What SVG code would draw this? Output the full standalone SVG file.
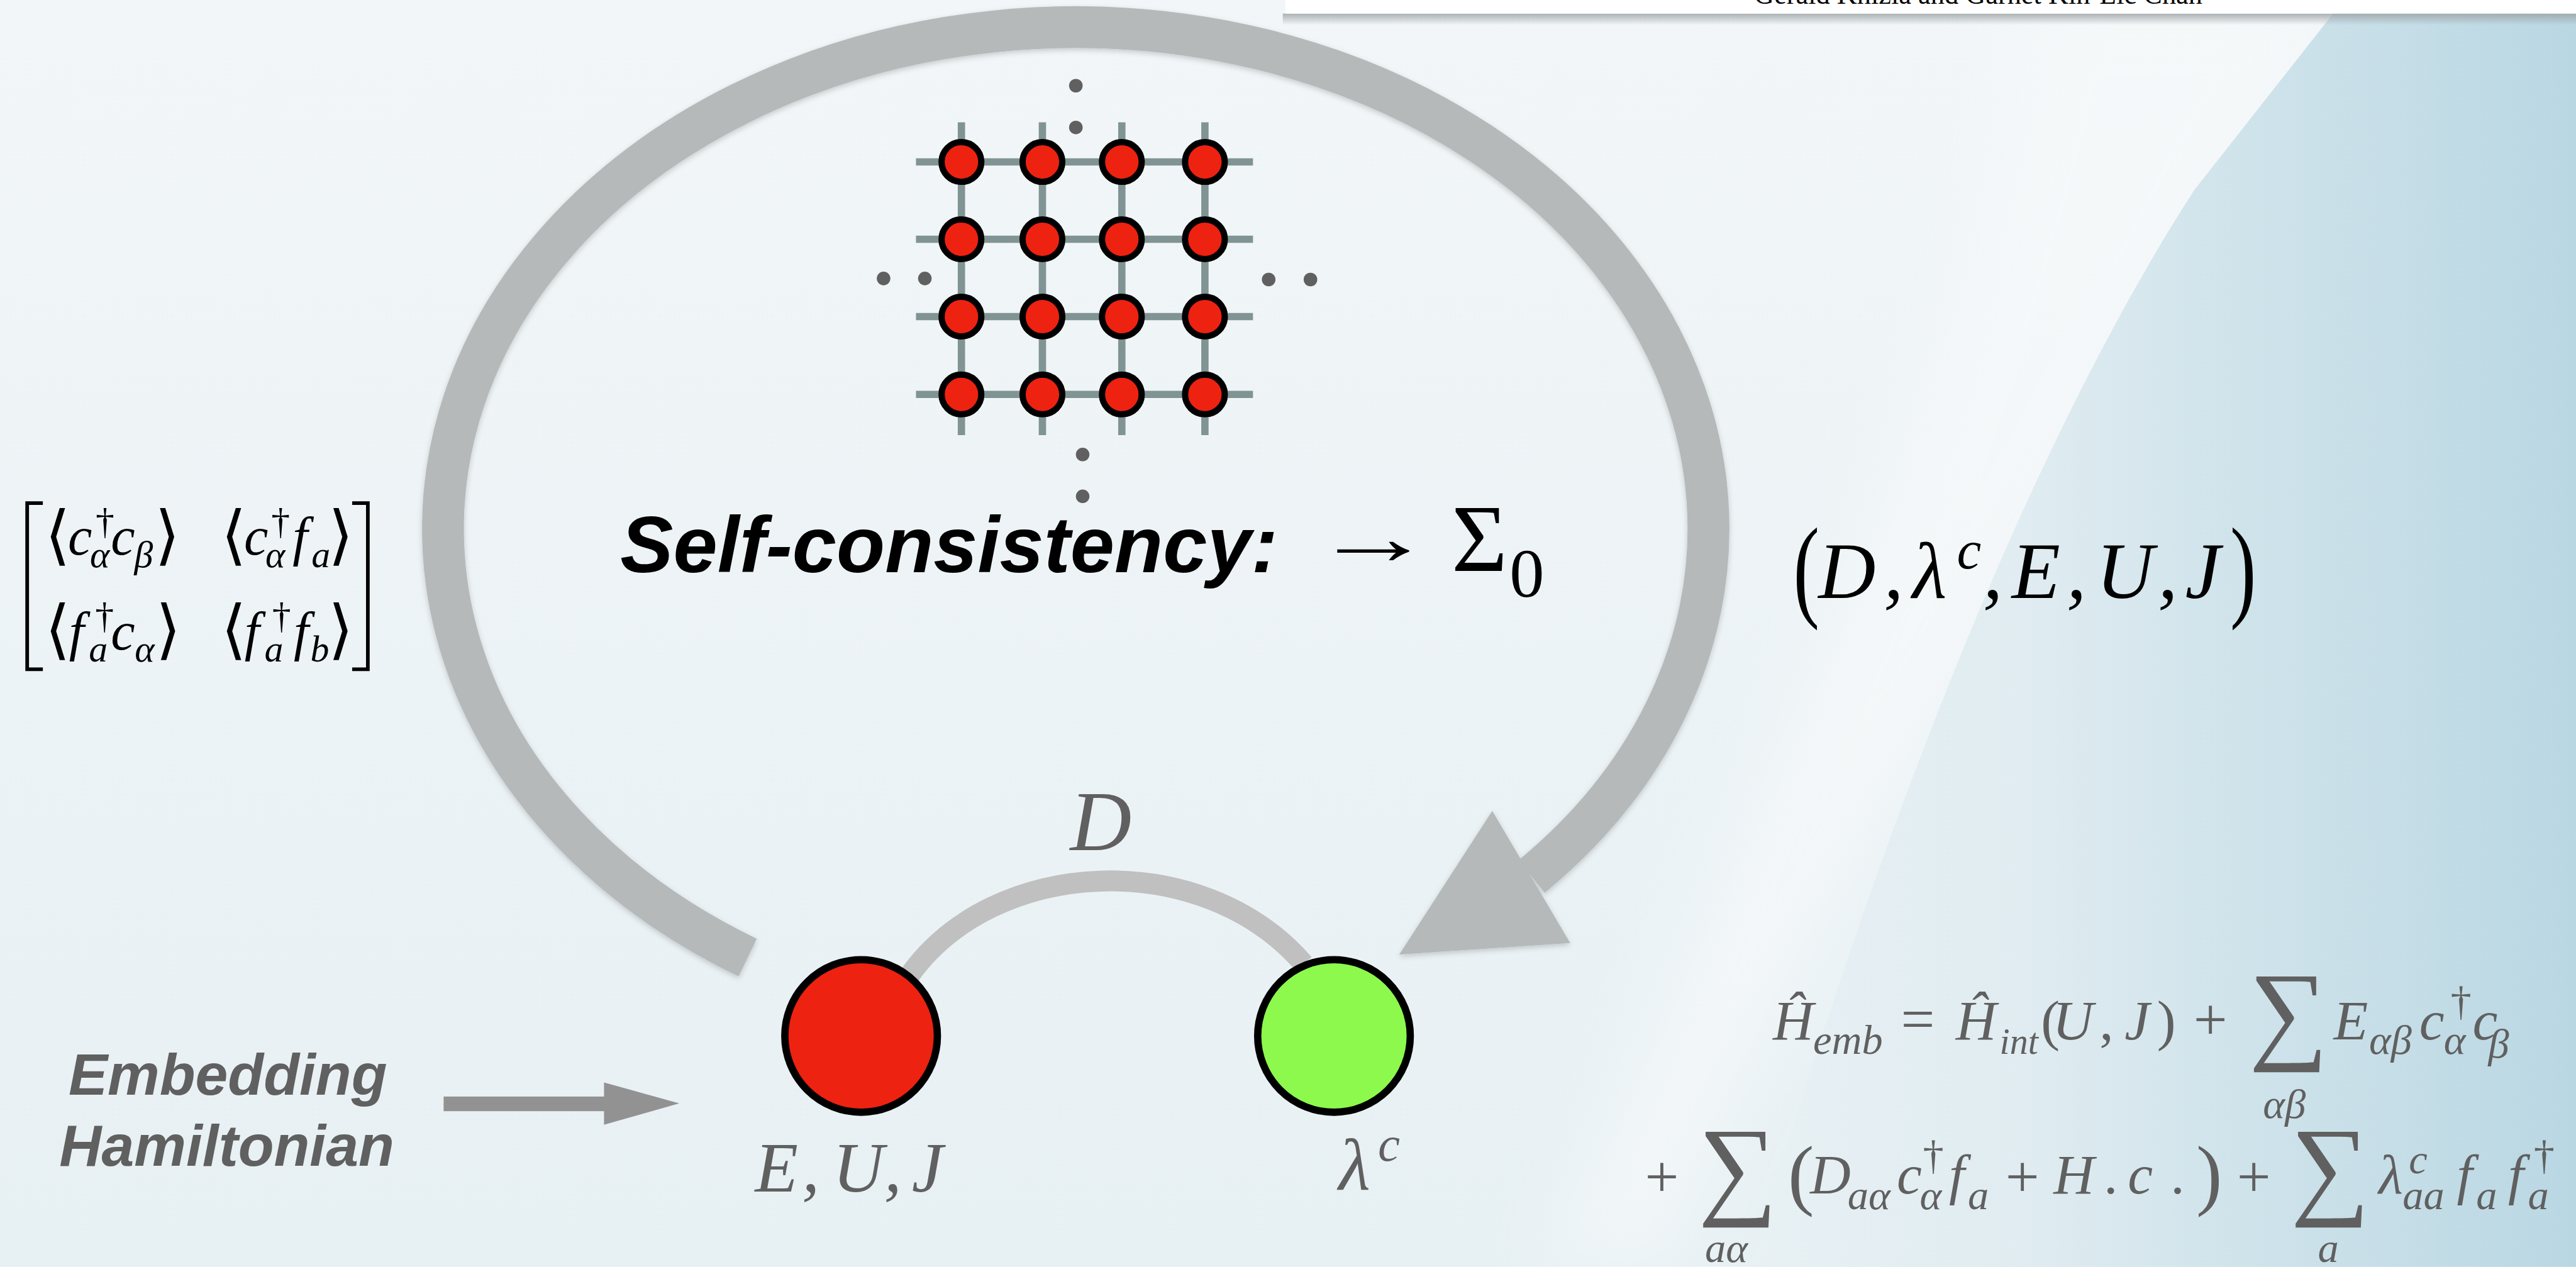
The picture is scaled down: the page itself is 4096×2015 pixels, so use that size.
<svg xmlns="http://www.w3.org/2000/svg" width="4096" height="2015" viewBox="0 0 4096 2015">
<defs>
<style>
.mi{font-family:"Liberation Serif","Times New Roman",serif;font-style:italic}
.mr{font-family:"Liberation Serif","Times New Roman",serif;font-style:normal}
.ang{font-family:"DejaVu Sans",sans-serif;font-style:normal;font-weight:normal}
.sum{font-family:"Liberation Serif","DejaVu Serif",serif;font-style:normal}
.bi{font-family:"Liberation Sans",Arial,sans-serif;font-weight:bold;font-style:italic}
.blk{fill:#000}
.gry{fill:#606060}
.lat{stroke:#819494;stroke-width:14}
.site{fill:#ee2211;stroke:#000;stroke-width:12}
.dot{fill:#606060}
</style>
<linearGradient id="bg" x1="0" y1="0" x2="0" y2="1">
<stop offset="0" stop-color="#f2f6f8"/>
<stop offset="1" stop-color="#e7f0f3"/>
</linearGradient>
<linearGradient id="blue" gradientUnits="userSpaceOnUse" x1="3300" y1="0" x2="4930" y2="0">
<stop offset="0" stop-color="#e9f1f4"/>
<stop offset="0.35" stop-color="#e0ecf1"/>
<stop offset="0.55" stop-color="#d3e5ec"/>
<stop offset="1" stop-color="#b9d7e3"/>
</linearGradient>
<linearGradient id="hshadow" x1="0" y1="0" x2="0" y2="1">
<stop offset="0" stop-color="#9aa0a3" stop-opacity="0.8"/>
<stop offset="1" stop-color="#9aa0a3" stop-opacity="0"/>
</linearGradient>
<filter id="sh" x="-10%" y="-10%" width="120%" height="120%">
<feDropShadow dx="0" dy="4" stdDeviation="5" flood-color="#000" flood-opacity="0.18"/>
</filter>
<filter id="soft" x="-20%" y="-20%" width="140%" height="140%">
<feGaussianBlur stdDeviation="60"/>
</filter>
</defs>
<g transform="scale(0.83083)">
<g id="background">
<rect x="0" y="0" width="4930" height="2425" fill="url(#bg)"/>
<path d="M3900 0 L4470 0 C4300 300 4000 900 3650 1500 C3450 1850 3300 2150 3200 2425 L2950 2425 C3300 1600 3800 700 3900 0 Z" fill="#f9fbfc" opacity="0.55" filter="url(#soft)"/>
<path d="M4470 20 L4200 363 C3950 750 3650 1400 3350 2425 L4930 2425 L4930 20 Z" fill="url(#blue)"/>
<rect x="2455" y="26" width="2475" height="22" fill="url(#hshadow)"/>
<rect x="2460" y="-10" width="2480" height="36" fill="#ffffff"/>
<text class="mr blk" x="3357" y="7" font-size="56" textLength="858" lengthAdjust="spacingAndGlyphs">Gerald Knizia and Garnet Kin-Lic Chan</text>
</g>
<g id="connectors">
<g id="loop-arrow" filter="url(#sh)" fill="#b5b9ba">
<path d="M1431 1833 A1211 960 0 1 1 2931 1678" fill="none" stroke="#b5b9ba" stroke-width="80"/>
<polygon points="2678,1827 2856,1552 3005,1805"/>
</g>
<path id="hop-D" d="M1740 1868 C1900 1640 2300 1620 2495 1845" fill="none" stroke="#c0c0c0" stroke-width="40"/>
<g id="embedding-arrow" fill="#929292">
<rect x="849" y="2099" width="310" height="28"/>
<polygon points="1156,2072 1300,2112 1156,2153"/>
</g>
</g>
<g id="lattice">
<g class="lat">
<line x1="1753" y1="310" x2="2398" y2="310"/>
<line x1="1753" y1="458" x2="2398" y2="458"/>
<line x1="1753" y1="606" x2="2398" y2="606"/>
<line x1="1753" y1="755" x2="2398" y2="755"/>
<line x1="1840" y1="234" x2="1840" y2="833"/>
<line x1="1995" y1="234" x2="1995" y2="833"/>
<line x1="2147" y1="234" x2="2147" y2="833"/>
<line x1="2306" y1="234" x2="2306" y2="833"/>
</g>
<g class="site">
<circle cx="1840" cy="310" r="38"/><circle cx="1995" cy="310" r="38"/><circle cx="2147" cy="310" r="38"/><circle cx="2306" cy="310" r="38"/>
<circle cx="1840" cy="458" r="38"/><circle cx="1995" cy="458" r="38"/><circle cx="2147" cy="458" r="38"/><circle cx="2306" cy="458" r="38"/>
<circle cx="1840" cy="606" r="38"/><circle cx="1995" cy="606" r="38"/><circle cx="2147" cy="606" r="38"/><circle cx="2306" cy="606" r="38"/>
<circle cx="1840" cy="755" r="38"/><circle cx="1995" cy="755" r="38"/><circle cx="2147" cy="755" r="38"/><circle cx="2306" cy="755" r="38"/>
</g>
<g class="dot">
<circle cx="2059" cy="164" r="13"/><circle cx="2059" cy="244" r="13"/>
<circle cx="2072" cy="870" r="13"/><circle cx="2072" cy="950" r="13"/>
<circle cx="1691" cy="533" r="13"/><circle cx="1770" cy="533" r="13"/>
<circle cx="2428" cy="535" r="13"/><circle cx="2508" cy="535" r="13"/>
</g>
</g>
<g id="self-consistency">
<text class="bi blk" x="1187" y="1095" font-size="152">Self-consistency:</text>
<text class="mr blk" transform="translate(2512 1080) scale(1.55 1)" x="0" y="0" font-size="150">→</text>
<text class="mr blk" x="2778" y="1093" font-size="184">Σ</text>
<text class="mr blk" x="2889" y="1142" font-size="133">0</text>
</g>
<g id="density-matrix" class="blk">
<path d="M82 963 H52 V1281 H82 M674 963 H704 V1281 H674" fill="none" stroke="#000" stroke-width="7"/>
<text font-size="104">
<tspan class="ang" font-size="124" x="86" y="1066">⟨</tspan><tspan class="mi" x="130" y="1062">c</tspan><tspan class="mr" font-size="72" x="183" y="1022">†</tspan><tspan class="mi" font-size="72" x="172" y="1086">α</tspan><tspan class="mi" x="212" y="1062">c</tspan><tspan class="mi" font-size="72" x="257" y="1086">β</tspan><tspan class="ang" font-size="124" x="296" y="1066">⟩</tspan>
<tspan class="ang" font-size="124" x="423" y="1066">⟨</tspan><tspan class="mi" x="467" y="1062">c</tspan><tspan class="mr" font-size="72" x="519" y="1022">†</tspan><tspan class="mi" font-size="72" x="508" y="1086">α</tspan><tspan class="mi" x="560" y="1062">f</tspan><tspan class="mi" font-size="72" x="596" y="1086">a</tspan><tspan class="ang" font-size="124" x="628" y="1066">⟩</tspan>
</text>
<text font-size="104">
<tspan class="ang" font-size="124" x="86" y="1247">⟨</tspan><tspan class="mi" x="132" y="1243">f</tspan><tspan class="mr" font-size="72" x="182" y="1203">†</tspan><tspan class="mi" font-size="72" x="170" y="1266">a</tspan><tspan class="mi" x="212" y="1243">c</tspan><tspan class="mi" font-size="72" x="258" y="1266">α</tspan><tspan class="ang" font-size="124" x="298" y="1247">⟩</tspan>
<tspan class="ang" font-size="124" x="423" y="1247">⟨</tspan><tspan class="mi" x="468" y="1243">f</tspan><tspan class="mr" font-size="72" x="521" y="1203">†</tspan><tspan class="mi" font-size="72" x="506" y="1266">a</tspan><tspan class="mi" x="562" y="1243">f</tspan><tspan class="mi" font-size="72" x="594" y="1266">b</tspan><tspan class="ang" font-size="124" x="628" y="1247">⟩</tspan>
</text>
</g>
<g id="parameters" class="blk">
<text class="mr" transform="translate(3432 1160) scale(1 1.45)" x="0" y="0" font-size="150">(</text>
<text class="mi" font-size="152" y="1145"><tspan x="3480">D</tspan><tspan x="3605">,</tspan><tspan x="3660">λ</tspan><tspan x="3745" y="1088" font-size="105">c</tspan><tspan x="3795" y="1145">,</tspan><tspan x="3850">E</tspan><tspan x="3955">,</tspan><tspan x="4012">U</tspan><tspan x="4130">,</tspan><tspan x="4182">J</tspan></text>
<text class="mr" transform="translate(4268 1160) scale(1 1.45)" x="0" y="0" font-size="150">)</text>
</g>
<g id="embedding-label" class="gry">
<text class="bi" x="436" y="2095" font-size="112" text-anchor="middle">Embedding</text>
<text class="bi" x="434" y="2232" font-size="112" text-anchor="middle">Hamiltonian</text>
</g>
<g id="node-impurity">
<circle cx="1648" cy="1983" r="146" fill="#ee2211" stroke="#000" stroke-width="14"/>
<text class="mi gry" font-size="135" y="2281"><tspan x="1445">E</tspan><tspan x="1535">,</tspan><tspan x="1594">U</tspan><tspan x="1692">,</tspan><tspan x="1745">J</tspan></text>
</g>
<g id="node-bath">
<circle cx="2553" cy="1983" r="146" fill="#8cf94c" stroke="#000" stroke-width="14"/>
<text class="mi gry" font-size="140" y="2277"><tspan x="2562">λ</tspan><tspan x="2637" y="2222" font-size="95">c</tspan></text>
</g>
<g id="hop-label">
<text class="mi gry" x="2048" y="1627" font-size="163">D</text>
</g>
<g id="hamiltonian" class="gry">
<text font-size="108">
<tspan class="mi" x="3393" y="1989">Ĥ</tspan><tspan class="mi" font-size="80" x="3470" y="2017">emb</tspan><tspan class="mr" font-size="115" x="3638" y="1989">=</tspan><tspan class="mi" x="3743" y="1989">Ĥ</tspan><tspan class="mi" font-size="70" x="3827" y="2017">int</tspan><tspan class="mr" x="3906" y="1989">(</tspan><tspan class="mi" x="3928" y="1989">U</tspan><tspan class="mr" x="4018" y="1989">,</tspan><tspan class="mi" x="4066" y="1989">J</tspan><tspan class="mr" x="4128" y="1989">)</tspan><tspan class="mr" font-size="115" x="4198" y="1989">+</tspan>
<tspan class="sum" font-size="212" x="4304" y="2008">∑</tspan>
<tspan class="mi" font-size="80" x="4331" y="2140">αβ</tspan>
<tspan class="mi" x="4466" y="1989">E</tspan><tspan class="mi" font-size="80" x="4534" y="2017">αβ</tspan><tspan class="mi" x="4630" y="1989">c</tspan><tspan class="mr" font-size="80" x="4690" y="1943">†</tspan><tspan class="mi" font-size="80" x="4677" y="2017">α</tspan><tspan class="mi" x="4732" y="1989">c</tspan><tspan class="mi" font-size="80" x="4762" y="2025">β</tspan>
</text>
<text font-size="108">
<tspan class="mr" font-size="115" x="3148" y="2290">+</tspan>
<tspan class="sum" font-size="212" x="3250" y="2305">∑</tspan>
<tspan class="mi" font-size="80" x="3263" y="2416">aα</tspan>
<tspan class="mr" font-size="150" x="3422" y="2298">(</tspan>
<tspan class="mi" x="3464" y="2284">D</tspan><tspan class="mi" font-size="80" x="3536" y="2314">aα</tspan>
<tspan class="mi" x="3630" y="2284">c</tspan><tspan class="mr" font-size="80" x="3680" y="2238">†</tspan><tspan class="mi" font-size="80" x="3674" y="2314">α</tspan>
<tspan class="mi" x="3730" y="2284">f</tspan><tspan class="mi" font-size="80" x="3766" y="2314">a</tspan>
<tspan class="mr" font-size="115" x="3838" y="2290">+</tspan>
<tspan class="mi" x="3930" y="2284">H</tspan><tspan class="mr" x="4026" y="2284">.</tspan><tspan class="mi" x="4072" y="2284">c</tspan><tspan class="mr" x="4154" y="2284">.</tspan>
<tspan class="mr" font-size="150" x="4203" y="2298">)</tspan>
<tspan class="mr" font-size="115" x="4281" y="2290">+</tspan>
<tspan class="sum" font-size="212" x="4384" y="2305">∑</tspan>
<tspan class="mi" font-size="80" x="4436" y="2416">a</tspan>
<tspan class="mi" x="4552" y="2284">λ</tspan><tspan class="mi" font-size="80" x="4610" y="2246">c</tspan><tspan class="mi" font-size="80" x="4598" y="2314">aa</tspan>
<tspan class="mi" x="4702" y="2284">f</tspan><tspan class="mi" font-size="80" x="4739" y="2314">a</tspan>
<tspan class="mi" x="4800" y="2284">f</tspan><tspan class="mr" font-size="80" x="4849" y="2238">†</tspan><tspan class="mi" font-size="80" x="4838" y="2314">a</tspan>
</text>
</g>
</g>
</svg>
